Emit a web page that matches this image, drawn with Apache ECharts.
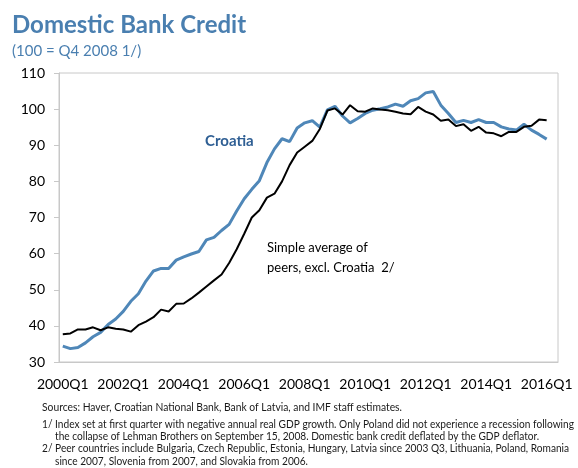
<!DOCTYPE html>
<html>
<head>
<meta charset="utf-8">
<script src="https://cdn.jsdelivr.net/npm/echarts@6/dist/echarts.min.js"></script>
<style>
  html, body { margin: 0; padding: 0; background: #ffffff; }
  #chart { width: 578px; height: 468px; }
</style>
</head>
<body>
<div id="chart"></div>
<script>
// Quarterly categories, 2000Q1 through 2016Q2 (the last slot is left empty)
const quarters = [];
for (let y = 2000; y <= 2016; y++) {
  for (let q = 1; q <= 4; q++) {
    if (y === 2016 && q > 2) break;
    quarters.push(y + 'Q' + q);
  }
}

// Domestic bank credit index, Croatia (100 = Q4 2008)
const croatia = [
  34.4, 33.7, 34.0, 35.3, 37.0, 38.2, 40.4, 41.9,
  44.0, 46.8, 48.9, 52.4, 55.2, 55.9, 55.9, 58.2,
  59.1, 59.9, 60.6, 63.8, 64.5, 66.4, 68.1, 71.8,
  75.2, 77.8, 80.2, 85.2, 89.0, 91.8, 91.0, 94.8,
  96.2, 96.8, 95.0, 99.8, 100.8, 98.1, 96.2, 97.4,
  98.8, 99.7, 100.1, 100.6, 101.4, 100.8, 102.3, 102.9,
  104.5, 104.9, 101.1, 98.8, 96.3, 96.9, 96.3, 97.1,
  96.3, 96.3, 95.1, 94.5, 94.2, 95.8, 94.2, 93.0,
  91.7
];

// Simple average of peer countries, excluding Croatia
const peers = [
  37.7, 37.9, 39.0, 39.0, 39.6, 38.8, 39.6, 39.2,
  39.0, 38.4, 40.2, 41.2, 42.4, 44.5, 44.0, 46.1,
  46.2, 47.6, 49.2, 50.9, 52.6, 54.2, 57.4, 61.2,
  65.5, 70.0, 72.0, 75.5, 76.6, 80.0, 84.5, 88.0,
  89.6, 91.2, 94.5, 99.6, 100.2, 98.5, 101.1, 99.4,
  99.3, 100.2, 99.9, 99.7, 99.3, 98.8, 98.6, 100.6,
  99.3, 98.5, 96.8, 97.1, 95.3, 95.8, 94.0, 95.1,
  93.5, 93.3, 92.5, 93.7, 93.7, 95.1, 95.4, 97.1,
  96.9
];

const sourceLine = 'Sources: Haver, Croatian National Bank, Bank of Latvia, and IMF staff estimates.';
const noteLines = [
  '1/ Index set at first quarter with negative annual real GDP growth. Only Poland did not experience a recession following',
  '     the collapse of Lehman Brothers on September 15, 2008. Domestic bank credit deflated by the GDP deflator.',
  '2/ Peer countries include Bulgaria, Czech Republic, Estonia, Hungary, Latvia since 2003 Q3, Lithuania, Poland, Romania',
  '     since 2007, Slovenia from 2007, and Slovakia from 2006.'
];

const FONT = 'Lato, "Open Sans", sans-serif';
const SOURCE_FONT = '11px ' + FONT;
const NOTE_FONT = '10.6px ' + FONT;

// Condense a text block horizontally so its widest line fits the given width
function fitScale(lines, font, width) {
  const ctx = document.createElement('canvas').getContext('2d');
  ctx.font = font;
  let w = 0;
  lines.forEach(function (l) { w = Math.max(w, ctx.measureText(l).width); });
  return Math.min(1, width / w);
}

const chart = echarts.init(document.getElementById('chart'), null, { renderer: 'canvas' });

chart.setOption({
  animation: false,
  backgroundColor: '#ffffff',
  title: {
    text: 'Domestic Bank Credit',
    subtext: '(100 = Q4 2008 1/)',
    left: 7,
    top: 8,
    itemGap: 7,
    textStyle: { color: '#4a7fb0', fontSize: 24, fontWeight: 'bold', fontFamily: FONT },
    subtextStyle: { color: '#4a7fb0', fontSize: 15, fontFamily: FONT }
  },
  grid: {
    left: 59, right: 20, top: 73, bottom: 106,
    show: true, borderColor: '#c8c8c8', borderWidth: 1
  },
  xAxis: {
    type: 'category',
    data: quarters,
    boundaryGap: true,
    axisLine: { show: true, lineStyle: { color: '#c8c8c8' } },
    axisTick: { show: false },
    axisLabel: {
      interval: 7, margin: 15,
      color: '#000000', fontSize: 14, fontFamily: FONT
    },
    splitLine: { show: false }
  },
  yAxis: {
    type: 'value',
    min: 30, max: 110, interval: 10,
    axisLine: { show: true, lineStyle: { color: '#c8c8c8' } },
    axisTick: { show: true, inside: false, length: 5, lineStyle: { color: '#c8c8c8' } },
    axisLabel: { margin: 14, color: '#000000', fontSize: 14, fontFamily: FONT },
    splitLine: { show: false }
  },
  series: [
    {
      name: 'Croatia',
      type: 'line',
      data: croatia,
      showSymbol: false,
      lineStyle: { color: '#4f87b8', width: 3 },
      z: 2
    },
    {
      name: 'Simple average of peers, excl. Croatia',
      type: 'line',
      data: peers,
      showSymbol: false,
      lineStyle: { color: '#000000', width: 2 },
      z: 3
    }
  ],
  graphic: [
    {
      type: 'text', left: 205, top: 134,
      style: { text: 'Croatia', fill: '#2f5f94', font: 'bold 15px ' + FONT }
    },
    {
      type: 'text', left: 267, top: 238,
      style: { text: 'Simple average of\npeers, excl. Croatia  2/', fill: '#000000',
               font: '13px ' + FONT, lineHeight: 20 }
    },
    {
      type: 'text', x: 42, y: 400,
      scaleX: fitScale([sourceLine], SOURCE_FONT, 360),
      style: { text: sourceLine, fill: '#1a1a1a', font: SOURCE_FONT, lineHeight: 14 }
    },
    {
      type: 'text', x: 42, y: 418.5,
      scaleX: fitScale(noteLines, NOTE_FONT, 532),
      style: { text: noteLines.join('\n'), fill: '#1a1a1a', font: NOTE_FONT, lineHeight: 12.2 }
    }
  ]
});
</script>
</body>
</html>
